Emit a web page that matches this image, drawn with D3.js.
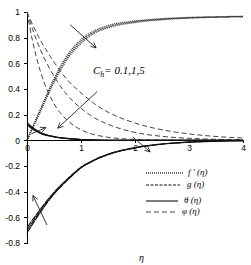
<!DOCTYPE html>
<html>
<head>
<meta charset="utf-8">
<script src="https://d3js.org/d3.v7.min.js"></script>
<style>
  body { margin: 0; background: #fff; }
  svg { font-family: "Liberation Serif", "Times New Roman", serif; }
  .axis path, .axis line { stroke: #000; shape-rendering: crispEdges; }
  .axis text { font-size: 8.5px; fill: #000; }
  .curve { fill: none; }
  .fp { stroke: #333; stroke-width: 1.3; stroke-dasharray: 1,1; }
  .g { stroke: #111; stroke-width: 1.1; stroke-dasharray: 7,0.6; }
  .th { stroke: #111; stroke-width: 1.1; }
  .phi { stroke: #444; stroke-width: 1; stroke-dasharray: 5,3; }
  .arrow { stroke: #222; stroke-width: 0.9; fill: none; }
  .lg text { font-size: 9px; font-style: italic; }
</style>
</head>
<body>
<script>
// eta grid shared by all series
var eta = [0, 0.1, 0.25, 0.5, 0.75, 1, 1.25, 1.5, 2, 2.5, 3, 3.5, 4];

// f'(eta) for Ch = 0.1, 1, 5
var fp1 = [0, 0.1, 0.245, 0.48, 0.665, 0.785, 0.855, 0.895, 0.93, 0.948, 0.958, 0.963, 0.967];
var fp2 = [0, 0.095, 0.235, 0.465, 0.65, 0.77, 0.845, 0.885, 0.924, 0.944, 0.955, 0.961, 0.965];
var fp3 = [0, 0.09, 0.225, 0.45, 0.635, 0.755, 0.835, 0.877, 0.918, 0.94, 0.952, 0.959, 0.963];

// g(eta)
var g1 = [-0.72, -0.655, -0.56, -0.42, -0.31, -0.215, -0.155, -0.112, -0.06, -0.03, -0.015, -0.007, -0.003];
var g2 = [-0.70, -0.64, -0.547, -0.412, -0.305, -0.212, -0.153, -0.11, -0.058, -0.029, -0.014, -0.006, -0.002];
var g3 = [-0.68, -0.622, -0.535, -0.405, -0.3, -0.21, -0.151, -0.108, -0.056, -0.028, -0.013, -0.006, -0.002];

// theta(eta)
var t1 = [0.14, 0.1, 0.062, 0.03, 0.015, 0.007, 0.003, 0.001, 0, 0, 0, 0, 0];
var t2 = [0.13, 0.093, 0.058, 0.028, 0.014, 0.0065, 0.003, 0.001, 0, 0, 0, 0, 0];
var t3 = [0.12, 0.087, 0.054, 0.026, 0.013, 0.006, 0.0025, 0.001, 0, 0, 0, 0, 0];

// phi(eta)
var phi1 = [1, 0.905, 0.78, 0.61, 0.47, 0.37, 0.285, 0.22, 0.135, 0.082, 0.05, 0.03, 0.018];
var phi2 = [1, 0.87, 0.705, 0.5, 0.35, 0.25, 0.175, 0.125, 0.062, 0.031, 0.016, 0.008, 0.004];
var phi3 = [1, 0.78, 0.535, 0.285, 0.155, 0.082, 0.044, 0.024, 0.007, 0.002, 0.001, 0, 0];

var xTicks = [0, 1, 2, 3, 4];
var yTicks = [-0.8, -0.6, -0.4, -0.2, 0, 0.2, 0.4, 0.6, 0.8, 1];

var series = [
  { cls: "fp", vals: [fp1, fp2, fp3] },
  { cls: "phi", vals: [phi1, phi2, phi3] },
  { cls: "g", vals: [g1, g2, g3] },
  { cls: "th", vals: [t1, t2, t3] }
];

// annotation arrows in data units: [eta0, v0, eta1, v1] (head at the second point)
var arrows = [
  [0.80, 0.90, 1.28, 0.72],
  [1.30, 0.38, 0.57, 0.095],
  [0.08, 0.05, 0.35, 0.10],
  [1.96, 0.026, 2.28, -0.09],
  [0.37, -0.66, 0.11, -0.43]
];

var W = 251, H = 265;
var svg = d3.select("body").append("svg").attr("width", W).attr("height", H);

var x = d3.scaleLinear().domain([0, 4]).range([27, 243]);
var y = d3.scaleLinear().domain([-0.8, 1]).range([243, 12]);

svg.append("g")
  .attr("class", "axis")
  .attr("transform", "translate(" + x(0) + ",0)")
  .call(d3.axisLeft(y).tickValues(yTicks).tickSize(3).tickSizeOuter(0).tickPadding(4)
    .tickFormat(function (d) { return String(+d.toFixed(1)); }));

svg.append("g")
  .attr("class", "axis")
  .attr("transform", "translate(0," + y(0) + ")")
  .call(d3.axisBottom(x).tickValues(xTicks).tickSize(3).tickSizeOuter(0).tickPadding(2)
    .tickFormat(d3.format("d")));

var line = d3.line().curve(d3.curveMonotoneX);

series.forEach(function (s) {
  s.vals.forEach(function (v) {
    svg.append("path")
      .attr("class", "curve " + s.cls)
      .attr("d", line(eta.map(function (e, i) { return [x(e), y(v[i])]; })));
  });
});

// arrows
arrows.forEach(function (a) {
  var x0 = x(a[0]), y0 = y(a[1]), x1 = x(a[2]), y1 = y(a[3]);
  var ang = Math.atan2(y1 - y0, x1 - x0), L = 6, sp = 0.45;
  svg.append("line").attr("class", "arrow")
    .attr("x1", x0).attr("y1", y0).attr("x2", x1).attr("y2", y1);
  svg.append("path").attr("class", "arrow")
    .attr("d", "M" + (x1 - L * Math.cos(ang - sp)) + "," + (y1 - L * Math.sin(ang - sp)) +
      "L" + x1 + "," + y1 +
      "L" + (x1 - L * Math.cos(ang + sp)) + "," + (y1 - L * Math.sin(ang + sp)));
});

// parameter label
var lab = svg.append("text")
  .attr("x", x(1.22)).attr("y", y(0.52))
  .style("font-size", "11px").style("font-style", "italic");
lab.append("tspan").text("C");
lab.append("tspan").attr("dy", 3).style("font-size", "8px").text("h");
lab.append("tspan").attr("dy", -3).text("= 0.1,1,5");

// legend
var legend = [
  { cls: "fp", label: "f ' (η)", y: 173, x2: 183, tx: 188 },
  { cls: "g", label: "g (η)", y: 185, x2: 180, tx: 187 },
  { cls: "th", label: "θ (η)", y: 201, x2: 178, tx: 184 },
  { cls: "phi", label: "φ (η)", y: 212, x2: 178, tx: 182 }
];
var lg = svg.append("g").attr("class", "lg");
legend.forEach(function (d) {
  lg.append("line").attr("class", "curve " + d.cls)
    .attr("x1", 146).attr("x2", d.x2).attr("y1", d.y).attr("y2", d.y)
    .style("stroke-dasharray", d.cls === "g" ? "3,1.5" : null);
  lg.append("text").attr("x", d.tx).attr("y", d.y + 2).text(d.label);
});

svg.append("text")
  .attr("x", x(2) + 4).attr("y", 261)
  .style("font-size", "10px").style("font-style", "italic")
  .text("η");
</script>
</body>
</html>
